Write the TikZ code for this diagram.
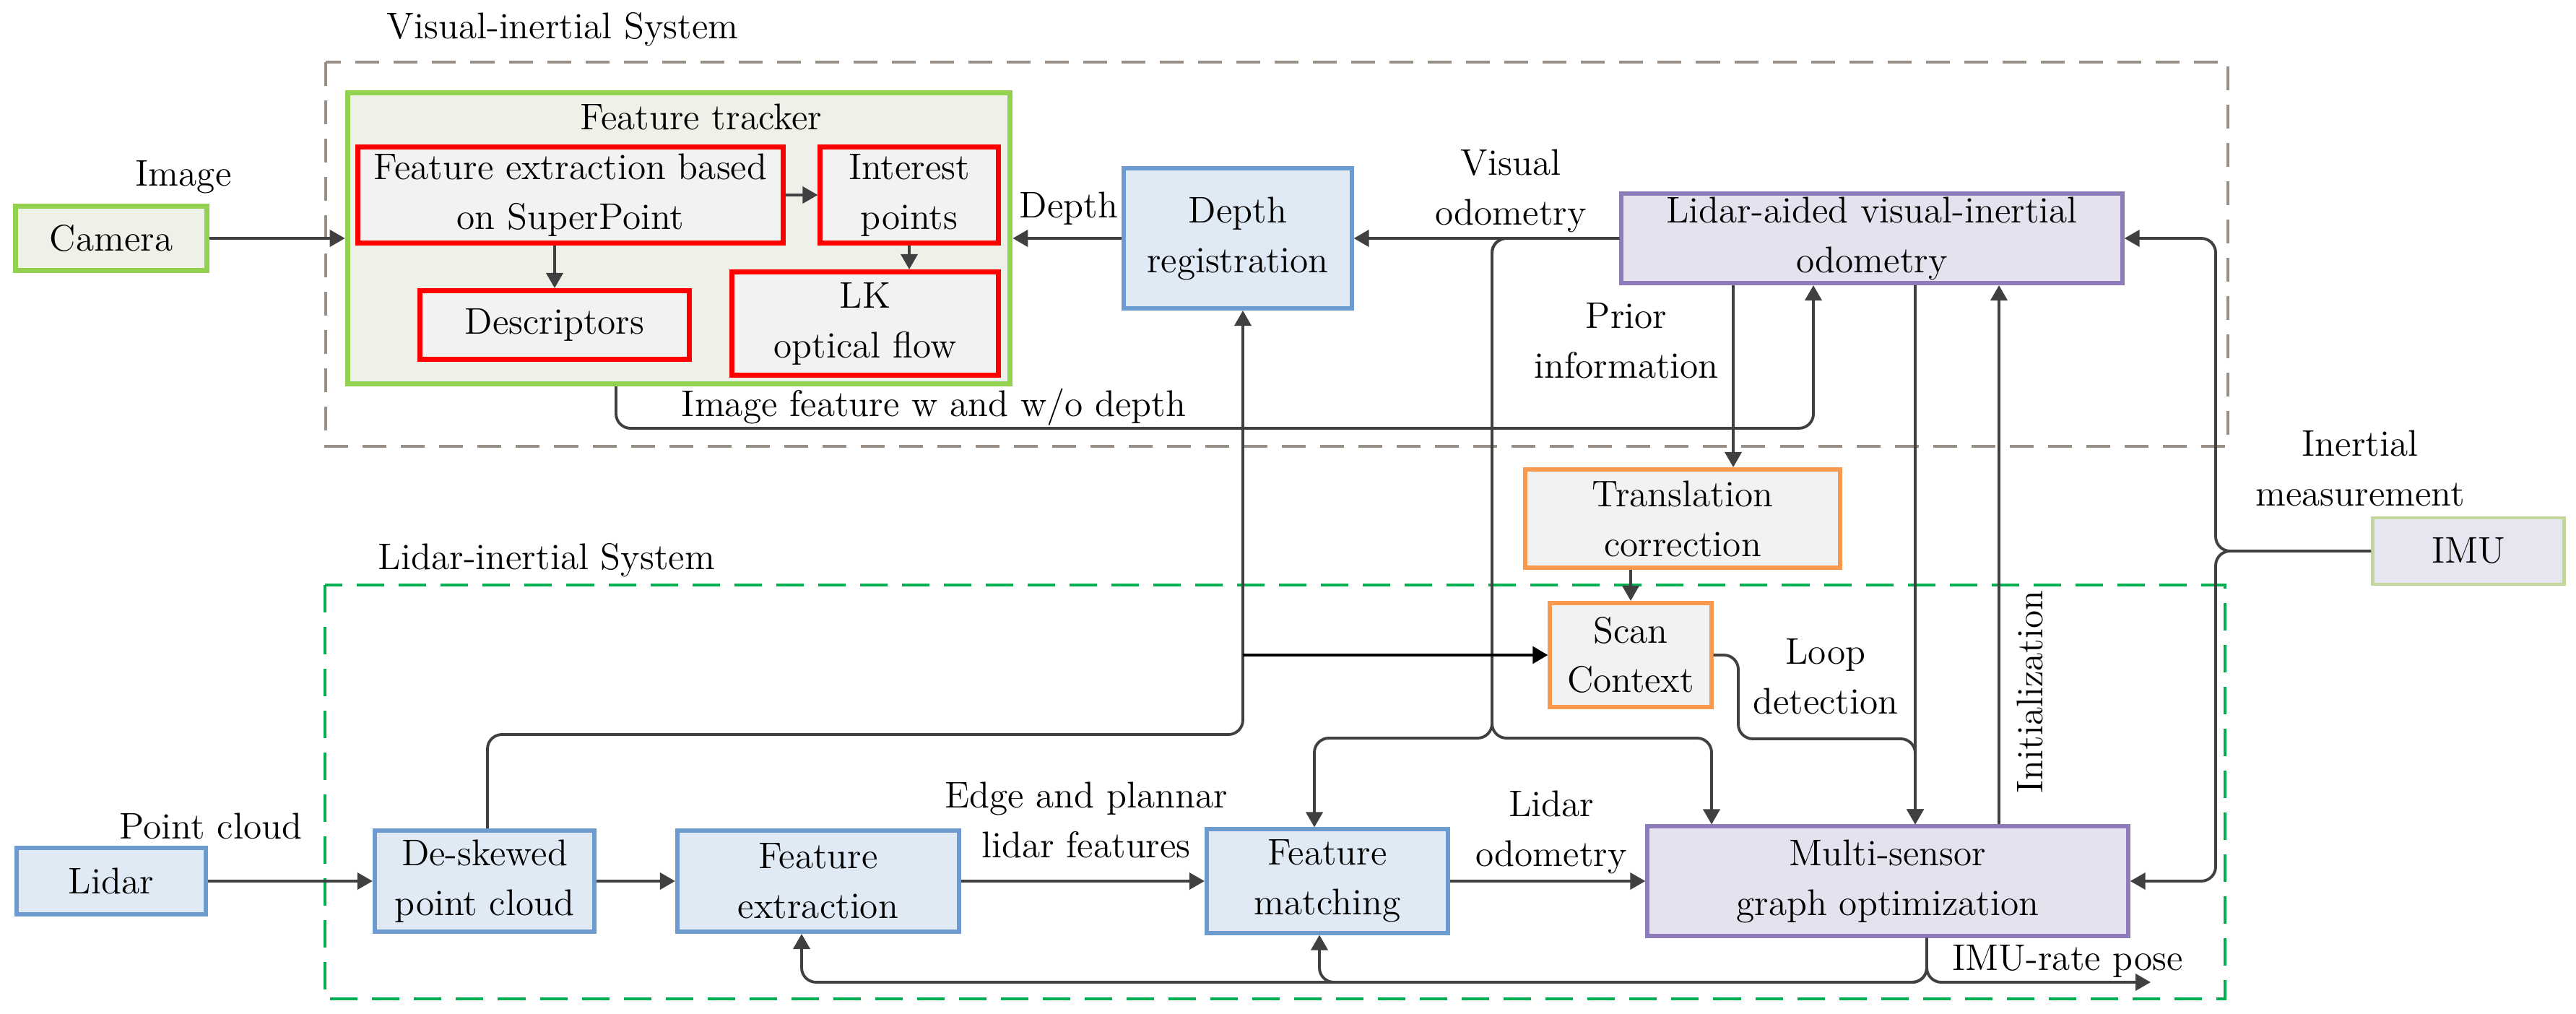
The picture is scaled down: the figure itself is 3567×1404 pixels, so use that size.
\documentclass[tikz,border=0pt]{standalone}
\usetikzlibrary{arrows.meta}

\definecolor{vigray}{HTML}{988F86}
\definecolor{ligreen}{HTML}{00B050}
\definecolor{grborder}{HTML}{92D050}
\definecolor{grfill}{HTML}{EEF1E8}
\definecolor{boxgray}{HTML}{F2F2F2}
\definecolor{blborder}{HTML}{6C9BCF}
\definecolor{blfill}{HTML}{DFEAF5}
\definecolor{puborder}{HTML}{8E7CBA}
\definecolor{pufill}{HTML}{E5E1EE}
\definecolor{orborder}{HTML}{F79A4F}
\definecolor{imuborder}{HTML}{C3D69B}
\definecolor{imufill}{HTML}{E7E5EF}
\definecolor{linegray}{HTML}{404040}

\tikzset{
  box/.style={draw, align=center, inner sep=0pt},
  greenbox/.style={box, draw=grborder, fill=grfill, line width=2pt},
  redbox/.style={box, draw=red, fill=boxgray, line width=2pt},
  bluebox/.style={box, draw=blborder, fill=blfill, line width=1.7pt},
  purplebox/.style={box, draw=puborder, fill=pufill, line width=1.7pt},
  orangebox/.style={box, draw=orborder, fill=boxgray, line width=1.7pt},
  imubox/.style={box, draw=imuborder, fill=imufill, line width=1.4pt},
  lbl/.style={align=center, inner sep=0pt},
  conn/.style={draw=linegray, line width=1.1pt, rounded corners=0.2cm,
    -{Triangle[length=0.21cm,width=0.23cm]}},
  vidash/.style={draw=vigray, line width=1.1pt, dash pattern=on 0.33cm off 0.2cm},
  lidash/.style={draw=ligreen, line width=1.1pt, dash pattern=on 0.38cm off 0.2cm}
}

\begin{document}
\begin{tikzpicture}[x=0.01cm, y=-0.01cm, font=\fontsize{14.6}{19.6}\selectfont]
  \useasboundingbox (0,0) rectangle (3567,1404);

  % system frames
  \draw[vidash] (451,86) rectangle (3085,618);
  \draw[lidash] (450,810) rectangle (3081,1383);
  \node[lbl] (vis) at (779,41) {Visual-inertial System};
  \node[lbl] (lis) at (757,776) {Lidar-inertial System};

  % visual part
  \node[greenbox, minimum width=2.64cm, minimum height=0.89cm] (camera) at (154,330) {Camera};
  \node[greenbox, minimum width=9.17cm, minimum height=4.03cm] (tracker) at (940,330) {};
  \node[lbl] (trlabel) at (971,162) {Feature tracker};
  \node[redbox, minimum width=5.89cm, minimum height=1.33cm] (fext) at (790,270) {Feature extraction based\\on SuperPoint};
  \node[redbox, minimum width=2.46cm, minimum height=1.33cm] (ipts) at (1259,270) {Interest\\points};
  \node[redbox, minimum width=3.72cm, minimum height=0.95cm] (desc) at (768,450) {Descriptors};
  \node[redbox, minimum width=3.69cm, minimum height=1.43cm] (lkof) at (1198,448) {LK\\optical flow};
  \node[bluebox, minimum width=3.15cm, minimum height=1.94cm] (depthreg) at (1714,330) {Depth\\registration};
  \node[purplebox, minimum width=6.93cm, minimum height=1.24cm] (lavio) at (2592,330) {Lidar-aided visual-inertial\\odometry};
  \node[orangebox, minimum width=4.35cm, minimum height=1.36cm] (transc) at (2330,718) {Translation\\correction};
  \node[orangebox, minimum width=2.23cm, minimum height=1.44cm] (scan) at (2258,907) {Scan\\Context};
  \node[imubox, minimum width=2.65cm, minimum height=0.92cm] (imu) at (3418,763) {IMU};

  % lidar part
  \node[bluebox, minimum width=2.62cm, minimum height=0.91cm] (lidar) at (154,1220) {Lidar};
  \node[bluebox, minimum width=3.04cm, minimum height=1.40cm] (deskew) at (671,1220) {De-skewed\\point cloud};
  \node[bluebox, minimum width=3.90cm, minimum height=1.40cm] (fextl) at (1133,1220) {Feature\\extraction};
  \node[bluebox, minimum width=3.34cm, minimum height=1.43cm] (fmatch) at (1838,1220) {Feature\\matching};
  \node[purplebox, minimum width=6.65cm, minimum height=1.51cm] (mso) at (2614,1220) {Multi-sensor\\graph optimization};

  % labels
  \node[lbl] (limage) at (254,245) {Image};
  \node[lbl] (ldepth) at (1480,289) {Depth};
  \node[lbl] (lvo) at (2092,264) {Visual\\odometry};
  \node[lbl] (lprior) at (2252,472) {Prior\\information};
  \node[lbl] (limf) at (1293,564) {Image feature w and w/o depth};
  \node[lbl] (linert) at (3268,648) {Inertial\\measurement};
  \node[lbl] (lpc) at (292,1144) {Point cloud};
  \node[lbl] (ledge) at (1504,1135) {Edge and plannar\\lidar features};
  \node[lbl] (llo) at (2148,1152) {Lidar\\odometry};
  \node[lbl] (lloop) at (2528,937) {Loop\\detection};
  \node[lbl, rotate=90] (linit) at (2811,958) {Initialization};
  \node[lbl] (lpose) at (2863,1331) {IMU-rate pose};

  \coordinate (tap) at (1721,907);
  \coordinate (pose) at (2978,1360);

  % connectors
  \draw[conn] (camera.east) -- (tracker.west);
  \draw[conn] (fext.east) -- (ipts.west);
  \draw[conn] (desc.north |- fext.south) -- (desc.north);
  \draw[conn] (ipts.south) -- (ipts.south |- lkof.north);
  \draw[conn] (depthreg.west) -- (tracker.east);
  \draw[conn] (lavio.west) -- (depthreg.east);
  \draw[conn] (853,0 |- tracker.south) -- (853,593) -- (2511,593) -- (2511,0 |- lavio.south);
  \draw[conn] (2400,0 |- lavio.south) -- (2400,0 |- transc.north);
  \draw[conn] (transc.south -| scan.north) -- (scan.north);
  \draw[conn] (lavio.west) -- (2066,330) -- (2066,1022) -- (1820,1022) -- (1820,0 |- fmatch.north);
  \draw[conn] (lavio.west) -- (2066,330) -- (2066,1022) -- (2370,1022) -- (2370,0 |- mso.north);
  \draw[conn] (675,0 |- deskew.north) -- (675,1017) -- (1721,1017) -- (1721,0 |- depthreg.south);
  \draw[conn, draw=black, line width=1.4pt] (tap) -- (scan.west);
  \draw[conn] (scan.east) -- (2407,907) -- (2407,1023) -- (2652,1023) -- (2652,0 |- mso.north);
  \draw[conn] (2652,0 |- lavio.south) -- (2652,0 |- mso.north);
  \draw[conn] (2768,0 |- mso.north) -- (2768,0 |- lavio.south);
  \draw[conn] (imu.west) -- (3068,763) -- (3068,330) -- (lavio.east);
  \draw[conn] (imu.west) -- (3068,763) -- (3068,1220) -- (mso.east);
  \draw[conn] (lidar.east) -- (deskew.west);
  \draw[conn] (deskew.east) -- (fextl.west);
  \draw[conn] (fextl.east) -- (fmatch.west);
  \draw[conn] (fmatch.east) -- (mso.west);
  \draw[conn] (2668,0 |- mso.south) -- (2668,1360) -- (1110,1360) -- (1110,0 |- fextl.south);
  \draw[conn] (2668,0 |- mso.south) -- (2668,1360) -- (1827,1360) -- (1827,0 |- fmatch.south);
  \draw[conn] (2668,0 |- mso.south) -- (2668,1360) -- (pose);
\end{tikzpicture}
\end{document}
